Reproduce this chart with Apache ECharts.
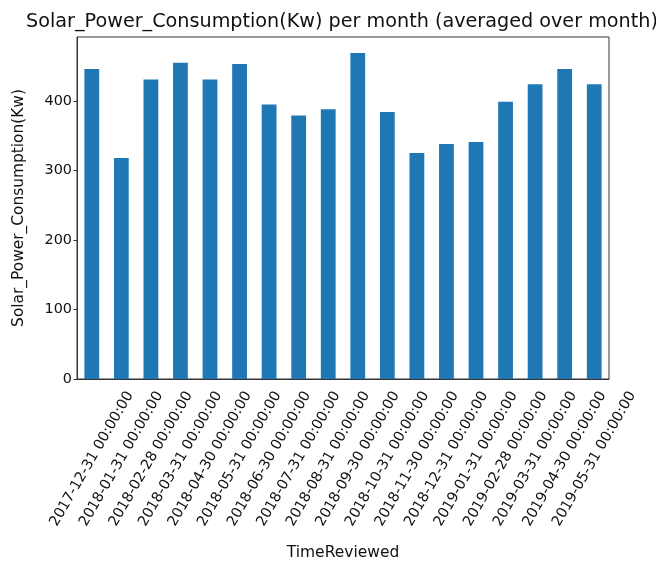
<!DOCTYPE html>
<html>
<head>
<meta charset="utf-8">
<script src="https://cdn.jsdelivr.net/npm/echarts@6/dist/echarts.min.js"></script>
<style>
  html, body { margin: 0; padding: 0; background: #fff; }
  #chart { width: 656px; height: 566px; }
</style>
</head>
<body>
<div id="chart"></div>
<script>
// month ends, as the pandas index prints them
const months = [
  '2017-12-31 00:00:00', '2018-01-31 00:00:00', '2018-02-28 00:00:00',
  '2018-03-31 00:00:00', '2018-04-30 00:00:00', '2018-05-31 00:00:00',
  '2018-06-30 00:00:00', '2018-07-31 00:00:00', '2018-08-31 00:00:00',
  '2018-09-30 00:00:00', '2018-10-31 00:00:00', '2018-11-30 00:00:00',
  '2018-12-31 00:00:00', '2019-01-31 00:00:00', '2019-02-28 00:00:00',
  '2019-03-31 00:00:00', '2019-04-30 00:00:00', '2019-05-31 00:00:00'
];
// averaged consumption (Kw)
const consumption = [446, 318, 431, 455, 431, 453, 395, 379, 388, 469, 384, 325, 338, 341, 399, 424, 446, 424];
const yTicks = [0, 100, 200, 300, 400];

const font = 'DejaVu Sans';
const ink = '#111';
const tickSize = 14.4;

const chart = echarts.init(document.getElementById('chart'), null, { renderer: 'canvas' });
chart.setOption({
  animation: false,
  textStyle: { fontFamily: font, color: ink },
  title: {
    text: 'Solar_Power_Consumption(Kw) per month (averaged over month)',
    left: 337,
    textAlign: 'center',
    top: 8,
    textStyle: { fontFamily: font, fontSize: 19.2, fontWeight: 'normal', color: ink }
  },
  grid: {
    left: 77, right: 47, top: 37, bottom: 187,
    show: true, borderColor: '#333', borderWidth: 1
  },
  xAxis: {
    type: 'category',
    data: months,
    name: 'TimeReviewed',
    nameLocation: 'middle',
    nameGap: 174,
    nameTextStyle: { fontFamily: font, fontSize: 15.5, color: ink, verticalAlign: 'middle' },
    axisLine: { lineStyle: { color: '#333', width: 1 } },
    axisTick: { alignWithLabel: true, length: 3.5, lineStyle: { color: '#333' } },
    axisLabel: {
      interval: 0, rotate: 60, align: 'center', verticalAlign: 'middle',
      margin: 80, fontFamily: font, fontSize: tickSize, color: ink
    }
  },
  yAxis: {
    type: 'value',
    min: 0,
    max: 492,
    interval: 100,
    name: 'Solar_Power_Consumption(Kw)',
    nameLocation: 'middle',
    nameGap: 58,
    nameRotate: 90,
    nameTextStyle: { fontFamily: font, fontSize: 15.4, color: ink, verticalAlign: 'middle' },
    splitLine: { show: false },
    axisLine: { show: true, lineStyle: { color: '#333', width: 1 } },
    axisTick: { show: true, length: 3.5, customValues: yTicks, lineStyle: { color: '#333' } },
    axisLabel: { customValues: yTicks, margin: 5, fontFamily: font, fontSize: tickSize, color: ink }
  },
  series: [{
    type: 'bar',
    data: consumption,
    barWidth: '50%',
    itemStyle: { color: '#1f77b4' }
  }]
});
</script>
</body>
</html>
